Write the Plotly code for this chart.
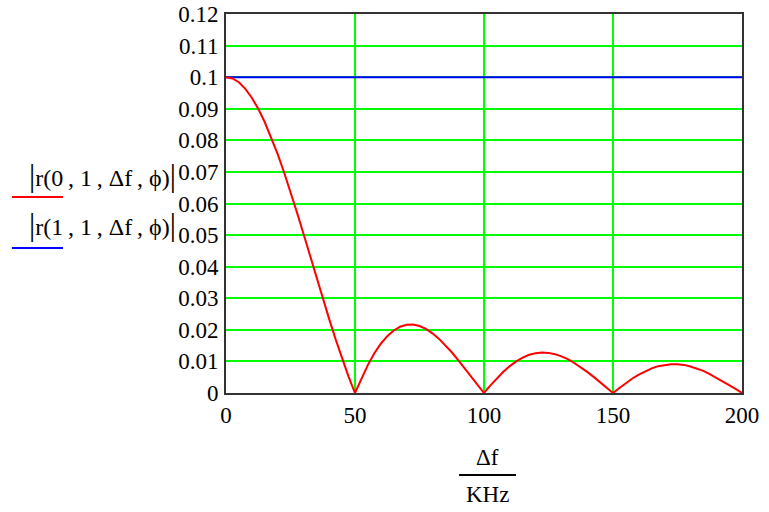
import plotly.graph_objects as go

# Data
df_red = [0, 2.5, 5, 7.5, 10, 12.5, 15, 17.5, 20, 22.5, 25, 27.5, 30, 32.5, 35, 37.5, 40,
          42.5, 45, 47.5, 50, 52.5, 55, 57.5, 60, 62.5, 65, 67.5, 70, 72.5, 75, 77.5, 80,
          82.5, 85, 87.5, 90, 92.5, 95, 97.5, 100, 102.5, 105, 107.5, 110, 112.5, 115,
          117.5, 120, 122.5, 125, 127.5, 130, 132.5, 135, 137.5, 140, 142.5, 145, 147.5,
          150, 152.5, 155, 157.5, 160, 162.5, 165, 167.5, 170, 172.5, 175, 177.5, 180,
          182.5, 185, 187.5, 190, 192.5, 195, 197.5, 200]
r0_vals = [0.1, 0.0996, 0.0984, 0.0963, 0.0935, 0.0900, 0.0858, 0.0810, 0.0757, 0.0699,
           0.0637, 0.0572, 0.0505, 0.0436, 0.0368, 0.0300, 0.0234, 0.0170, 0.0109, 0.0052,
           0.0, 0.0047, 0.0089, 0.0126, 0.0156, 0.0180, 0.0198, 0.0210, 0.0216, 0.0217,
           0.0212, 0.0203, 0.0189, 0.0172, 0.0151, 0.0129, 0.0104, 0.0078, 0.0052, 0.0026,
           0.0, 0.0024, 0.0047, 0.0067, 0.0085, 0.0100, 0.0112, 0.0121, 0.0126, 0.0128,
           0.0127, 0.0123, 0.0116, 0.0107, 0.0095, 0.0082, 0.0067, 0.0051, 0.0034, 0.0017,
           0.0, 0.0016, 0.0032, 0.0046, 0.0058, 0.0069, 0.0078, 0.0085, 0.0089, 0.0091,
           0.0091, 0.0089, 0.0084, 0.0078, 0.0070, 0.0060, 0.0049, 0.0038, 0.0025, 0.0013,
           0.0]
df_blue = [0, 200]
r1_vals = [0.1, 0.1]

x_ticks = [0, 50, 100, 150, 200]
y_ticks = [0, 0.01, 0.02, 0.03, 0.04, 0.05, 0.06, 0.07, 0.08, 0.09, 0.1, 0.11, 0.12]
y_tick_labels = ["0", "0.01", "0.02", "0.03", "0.04", "0.05", "0.06", "0.07", "0.08",
                 "0.09", "0.1", "0.11", "0.12"]

FONT = "Liberation Serif"
FS = 23
LFS = 24

fig = go.Figure()
fig.add_trace(go.Scatter(x=df_blue, y=r1_vals, mode="lines",
                         line=dict(color="#0000FF", width=2), showlegend=False))
fig.add_trace(go.Scatter(x=df_red, y=r0_vals, mode="lines",
                         line=dict(color="#FF0000", width=2), showlegend=False))

fig.update_layout(
    width=769, height=512,
    margin=dict(l=226, r=27, t=14, b=119, autoexpand=False),
    paper_bgcolor="white", plot_bgcolor="white",
    font=dict(family=FONT, size=FS, color="black"),
    xaxis=dict(range=[0, 200], tickvals=x_ticks, showgrid=True, gridcolor="#00FF00",
               gridwidth=2, zeroline=False, showline=True, mirror=True,
               linecolor="#333333", linewidth=2, ticks="", automargin=False,
               tickfont=dict(family=FONT, size=FS, color="black")),
    yaxis=dict(range=[0, 0.12], tickvals=y_ticks, ticktext=y_tick_labels, showgrid=True,
               gridcolor="#00FF00", gridwidth=2, zeroline=False, showline=True,
               mirror=True, linecolor="#333333", linewidth=2, ticks="",
               ticklabelstandoff=1, automargin=False,
               tickfont=dict(family=FONT, size=FS, color="black")),
)

BAR = '<span style="font-size:31px">|</span>'
SEP = "\u2009, "
# Y-axis legend-style labels (Mathcad style)
fig.add_annotation(xref="paper", yref="paper", x=-0.093, y=0.575, xanchor="right",
                   yanchor="middle", showarrow=False,
                   text=BAR + "r(0" + SEP + "1" + SEP + "Δf" + SEP + "ϕ)" + BAR,
                   font=dict(family=FONT, size=LFS))
fig.add_annotation(xref="paper", yref="paper", x=-0.093, y=0.445, xanchor="right",
                   yanchor="middle", showarrow=False,
                   text=BAR + "r(1" + SEP + "1" + SEP + "Δf" + SEP + "ϕ)" + BAR,
                   font=dict(family=FONT, size=LFS))
fig.add_shape(type="line", xref="paper", yref="paper", x0=-0.4147, x1=-0.3159,
              y0=0.517, y1=0.517, line=dict(color="#FF0000", width=2))
fig.add_shape(type="line", xref="paper", yref="paper", x0=-0.4147, x1=-0.3159,
              y0=0.3826, y1=0.3826, line=dict(color="#0000FF", width=2))

# X-axis title as fraction
fig.add_annotation(xref="paper", yref="paper", x=0.506, y=-0.1715, xanchor="center",
                   yanchor="middle", showarrow=False, text="Δf",
                   font=dict(family=FONT, size=FS))
fig.add_shape(type="line", xref="paper", yref="paper", x0=0.4516, x1=0.562,
              y0=-0.2164, y1=-0.2164, line=dict(color="black", width=2))
fig.add_annotation(xref="paper", yref="paper", x=0.506, y=-0.269, xanchor="center",
                   yanchor="middle", showarrow=False, text="KHz",
                   font=dict(family=FONT, size=FS))

fig.write_html("out.html",
               config={"displayModeBar": False},
               post_script="document.body.style.margin='0';"
                           "document.body.style.overflow='hidden';")
